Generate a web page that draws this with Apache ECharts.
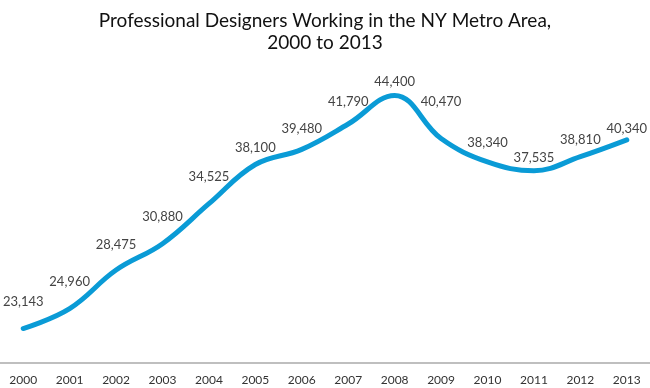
<!DOCTYPE html>
<html><head><meta charset="utf-8">
<script src="https://cdn.jsdelivr.net/npm/echarts@6/dist/echarts.min.js"></script>
<style>html,body{margin:0;padding:0;background:#fff}#c{width:650px;height:388px}</style>
</head><body><div id="c"></div>
<script>
const titleText = "Professional Designers Working in the NY Metro Area,\n2000 to 2013";
const years = ["2000","2001","2002","2003","2004","2005","2006","2007","2008","2009","2010","2011","2012","2013"];
const designers = [23143,24960,28475,30880,34525,38100,39480,41790,44400,40470,38340,37535,38810,40340];
// vertical placement of each value label above its point (px, label centre relative to point)
const labelRise = [-26,-26,-25,-26,-26,-16,-20,-22,-13,-36,-19,-12,-16,-11];
const chart = echarts.init(document.getElementById('c'));
chart.setOption({
  animation:false,
  title:{text:titleText,left:'center',top:5,textStyle:{fontFamily:'Lato',fontWeight:'normal',fontSize:19,color:'#111',lineHeight:22}},
  grid:{left:0,right:0,top:34,bottom:25},
  xAxis:{type:'category',data:years,boundaryGap:true,
    axisLine:{lineStyle:{color:'#aaa',width:1.5}},axisTick:{show:false},
    axisLabel:{color:'#333',fontFamily:'Lato',fontSize:12,margin:11}},
  yAxis:{type:'value',min:20000,max:50000,show:false,splitLine:{show:false}},
  series:[{type:'line',
    data:designers.map((v,i)=>({value:v,label:{offset:[0,labelRise[i]+7]}})),
    smooth:0.4,symbol:'circle',symbolSize:1,showSymbol:true,
    itemStyle:{color:'rgba(0,0,0,0)'},
    lineStyle:{color:'#0a9bd6',width:5,cap:'round'},
    label:{show:true,position:'top',distance:0,color:'#444',fontFamily:'Lato',fontSize:13,lineHeight:14,
      formatter:p=>p.value.toLocaleString('en-US')}}]
});
</script></body></html>
